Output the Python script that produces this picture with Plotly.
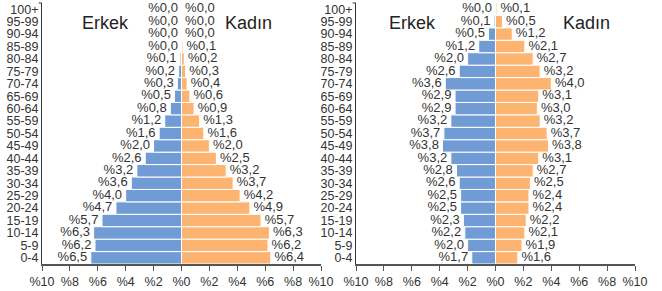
import plotly.graph_objects as go

ages = ["0-4", "5-9", "10-14", "15-19", "20-24", "25-29", "30-34", "35-39", "40-44",
        "45-49", "50-54", "55-59", "60-64", "65-69", "70-74", "75-79", "80-84",
        "85-89", "90-94", "95-99", "100+"]

# Left pyramid
left_male = [6.5, 6.2, 6.3, 5.7, 4.7, 4.0, 3.6, 3.2, 2.6, 2.0, 1.6, 1.2, 0.8, 0.5, 0.3,
             0.2, 0.1, 0.0, 0.0, 0.0, 0.0]
left_female = [6.4, 6.2, 6.3, 5.7, 4.9, 4.2, 3.7, 3.2, 2.5, 2.0, 1.6, 1.3, 0.9, 0.6, 0.4,
               0.3, 0.2, 0.1, 0.0, 0.0, 0.0]

# Right pyramid
right_male = [1.7, 2.0, 2.2, 2.3, 2.5, 2.5, 2.6, 2.8, 3.2, 3.8, 3.7, 3.2, 2.9, 2.9, 3.6,
              2.6, 2.0, 1.2, 0.5, 0.1, 0.0]
right_female = [1.6, 1.9, 2.1, 2.2, 2.4, 2.4, 2.5, 2.7, 3.1, 3.8, 3.7, 3.2, 3.0, 3.1, 4.0,
                3.2, 2.7, 2.1, 1.2, 0.5, 0.1]

tick_vals = [-10, -8, -6, -4, -2, 0, 2, 4, 6, 8, 10]
tick_text = ["%10", "%8", "%6", "%4", "%2", "%0", "%2", "%4", "%6", "%8", "%10"]

BLUE = "#709bd4"
ORANGE = "#fcb470"
TXT = "#333333"
FONT = "Liberation Sans, Arial, sans-serif"
NB = "\u00a0"


def lab(v):
    return "%" + f"{v:.1f}".replace(".", ",")


fig = go.Figure()

for xa, ya, male, female in [("x", "y", left_male, left_female),
                             ("x2", "y2", right_male, right_female)]:
    fig.add_trace(go.Bar(
        y=ages, x=[-v for v in male], orientation="h", xaxis=xa, yaxis=ya,
        marker=dict(color=BLUE, line=dict(color="white", width=1)),
        hoverinfo="skip", showlegend=False))
    fig.add_trace(go.Bar(
        y=ages, x=female, orientation="h", xaxis=xa, yaxis=ya,
        marker=dict(color=ORANGE, line=dict(color="white", width=1)),
        hoverinfo="skip", showlegend=False))
    fig.add_trace(go.Scatter(
        y=ages, x=[-v for v in male], mode="text", xaxis=xa, yaxis=ya,
        text=[lab(v) + NB for v in male], textposition="middle left",
        textfont=dict(size=13, color=TXT, family=FONT), cliponaxis=False,
        hoverinfo="skip", showlegend=False))
    fig.add_trace(go.Scatter(
        y=ages, x=female, mode="text", xaxis=xa, yaxis=ya,
        text=[NB + lab(v) for v in female], textposition="middle right",
        textfont=dict(size=13, color=TXT, family=FONT), cliponaxis=False,
        hoverinfo="skip", showlegend=False))

W, H = 662, 291
xdom1 = [42 / W, 321 / W]
xdom2 = [356 / W, 635 / W]
ydom = [(H - 264) / H, (H - 3) / H]

xcommon = dict(range=[-10, 10], tickmode="array", tickvals=tick_vals, ticktext=tick_text,
               showgrid=False, zeroline=False, showline=True, linecolor="#555555",
               linewidth=1.5, ticks="outside", ticklen=5, tickcolor="#555555",
               tickwidth=1, tickfont=dict(size=12.5, color=TXT, family=FONT),
               fixedrange=True, automargin=False)
ycommon = dict(type="category", categoryorder="array", categoryarray=ages,
               range=[-0.5, len(ages) - 0.5], autorange=False,
               tickmode="array", tickvals=ages, ticktext=ages,
               showgrid=False, zeroline=False, showline=True, linecolor="#333333",
               linewidth=1, ticks="", tickfont=dict(size=12.5, color=TXT, family=FONT),
               domain=ydom, fixedrange=True, automargin=False)

fig.update_layout(
    width=W, height=H,
    margin=dict(l=0, r=0, t=0, b=0, autoexpand=False),
    paper_bgcolor="white", plot_bgcolor="white",
    barmode="relative", bargap=0,
    font=dict(family=FONT, color=TXT),
    xaxis=dict(domain=xdom1, anchor="y", **xcommon),
    xaxis2=dict(domain=xdom2, anchor="y2", **xcommon),
    yaxis=dict(anchor="x", **ycommon),
    yaxis2=dict(anchor="x2", **ycommon),
)

ann_font = dict(size=18, color="#222222", family=FONT)
for x, t in [(105.5, "Erkek"), (249, "Kadın"), (412.5, "Erkek"), (586, "Kadın")]:
    fig.add_annotation(text=t, x=x / W, y=(H - 23) / H, xref="paper", yref="paper",
                       showarrow=False, font=ann_font, xanchor="center", yanchor="middle")

# small outer tick at the top of each y-axis
for xr, yr in [("x domain", "y domain"), ("x2 domain", "y2 domain")]:
    fig.add_shape(type="line", xref=xr, yref=yr, x0=-0.012, x1=0, y0=1, y1=1,
                  line=dict(color="#333333", width=1))

fig.write_html("out.html", config={"displayModeBar": False, "staticPlot": True},
               post_script="document.body.style.margin='0';document.body.style.overflow='hidden';")
